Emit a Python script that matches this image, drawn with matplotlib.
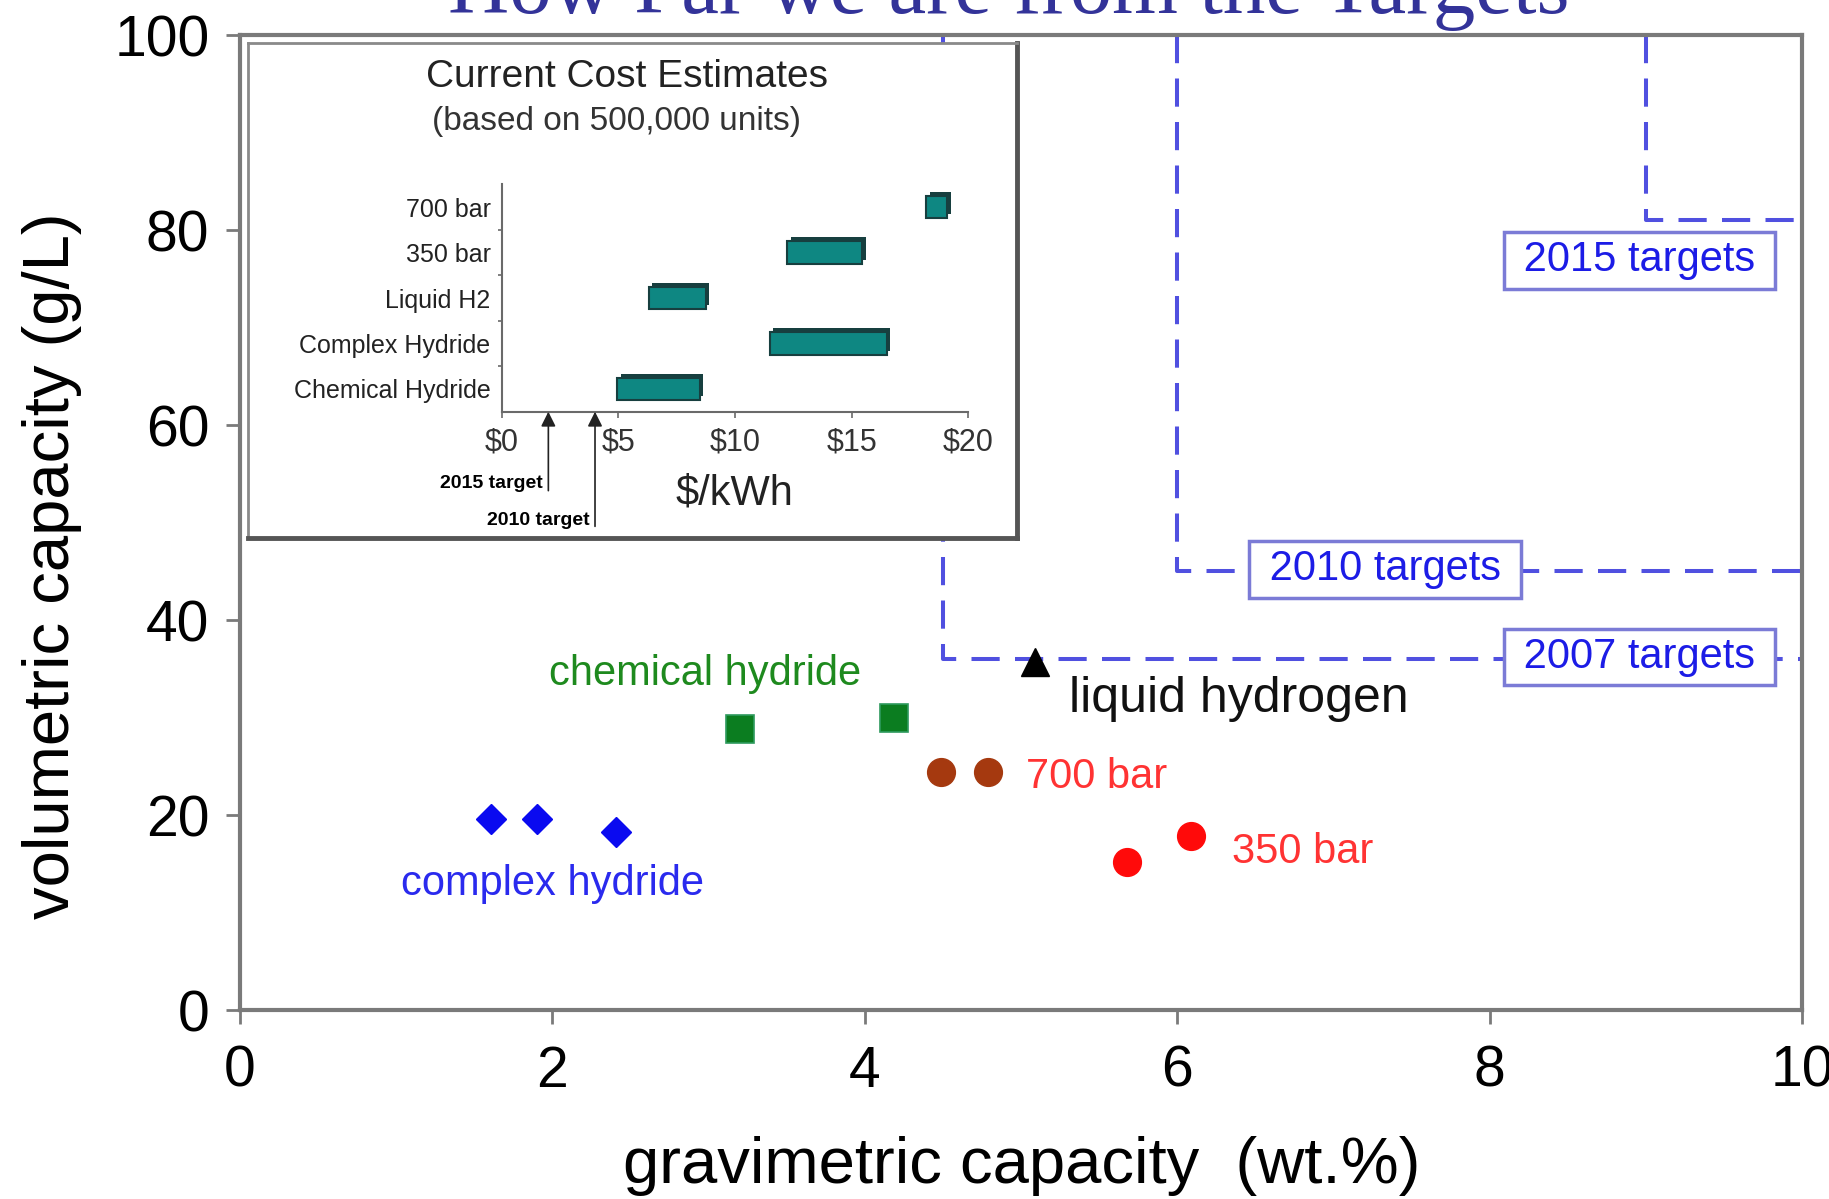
import matplotlib.pyplot as plt

plt.rcParams['font.family'] = ['Liberation Sans', 'DejaVu Sans']

# main chart: storage systems (wt.% , g/L)
complex_x = [1.61, 1.90, 2.41]
complex_y = [19.6, 19.6, 18.3]
chem_x = [3.20, 4.19]
chem_y = [28.8, 30.0]
bar700_x = [4.49, 4.79]
bar700_y = [24.4, 24.4]
bar350_x = [5.68, 6.09]
bar350_y = [15.2, 17.8]
lh2_x = [5.09]
lh2_y = [35.7]

# DOE targets
target_names = ['2007 targets', '2010 targets', '2015 targets']
target_grav = [4.5, 6.0, 9.0]
target_vol = [36, 45, 81]

# inset: cost estimates ($/kWh)
cost_categories = ['Chemical Hydride', 'Complex Hydride', 'Liquid H2', '350 bar', '700 bar']
cost_low = [4.95, 11.5, 6.3, 12.25, 18.2]
cost_high = [8.5, 16.5, 8.75, 15.45, 19.1]
cost_targets = [2, 4]
cost_target_names = ['2015 target', '2010 target']

fig = plt.figure(figsize=(18.29, 11.99), dpi=100)
ax = fig.add_axes([0.1312, 0.1576, 0.854, 0.8132])

# target lines
for g, v in zip(target_grav, target_vol):
    ax.plot([g, g, 10], [100, v, v], color='#5050e0', lw=2.9,
            dashes=(7, 3.8), zorder=2, clip_on=False)
label_pos = [(8.96, 36.2), (7.33, 45.2), (8.96, 76.9)]
for name, (lx, ly) in zip(target_names, label_pos):
    ax.text(lx, ly, ' ' + name + ' ', ha='center', va='center', fontsize=30,
            color='#1c1ce6', zorder=5,
            bbox=dict(boxstyle='square,pad=0.2', fc='white', ec='#7b7bd6', lw=2.5))

ax.plot(complex_x, complex_y, 'D', color='#0a0af0', ms=15, zorder=3)
ax.plot(chem_x, chem_y, 's', color='#0b7d20', mec='#2e9a5e', mew=1.2, ms=20, zorder=3)
ax.plot(bar700_x, bar700_y, 'o', color='#a5390f', ms=20, zorder=3)
ax.plot(bar350_x, bar350_y, 'o', color='#ff0a0a', ms=20, zorder=3)
ax.plot(lh2_x, lh2_y, '^', color='black', ms=20, zorder=3)

ax.text(2.98, 33.3, 'chemical hydride', ha='center', va='baseline', fontsize=30, color='#1e8a1e')
ax.text(2.0, 11.8, 'complex hydride', ha='center', va='baseline', fontsize=30, color='#2a2aee')
ax.text(5.03, 22.8, '700 bar', ha='left', va='baseline', fontsize=30, color='#ff3333')
ax.text(6.35, 15.1, '350 bar', ha='left', va='baseline', fontsize=30, color='#ff3333')
ax.text(5.31, 30.6, 'liquid hydrogen', ha='left', va='baseline', fontsize=36, color='#111111')

ax.set_xlim(0, 10)
ax.set_ylim(0, 100)
ax.set_xticks([0, 2, 4, 6, 8, 10])
ax.set_yticks([0, 20, 40, 60, 80, 100])
for s in ax.spines.values():
    s.set_color('#7a7a7a')
    s.set_linewidth(3)
ax.tick_params(direction='out', length=10, width=2, color='#7a7a7a', labelsize=41)
ax.tick_params(axis='x', pad=15)
ax.tick_params(axis='y', pad=12)

fig.text(0.5587, 0.0275, 'gravimetric capacity  (wt.%)', ha='center', va='center', fontsize=47)
fig.text(0.0287, 0.528, 'volumetric capacity (g/L)', ha='center', va='center',
         rotation=90, fontsize=47)

fig.text(0.5517, 0.9892, 'How Far we are from the Targets', ha='center', va='baseline',
         fontsize=61, color='#333399', family=['Liberation Serif', 'DejaVu Serif'])

# inset frame
frame = fig.add_axes([0.1356, 0.5513, 0.4204, 0.4128], zorder=3)
frame.set_xticks([])
frame.set_yticks([])
for side, s in frame.spines.items():
    s.set_color('#555555' if side in ('bottom', 'right') else '#8a8a8a')
    s.set_linewidth(3.5 if side in ('bottom', 'right') else 2)

ins = fig.add_axes([0.2743, 0.6566, 0.2551, 0.1897], zorder=4)
ins.patch.set_alpha(0)
ypos = list(range(len(cost_categories)))
widths = [h - l for l, h in zip(cost_low, cost_high)]
ins.barh([y + 0.09 for y in ypos], widths, left=[l + 0.15 for l in cost_low], height=0.5,
         color='#173f3f', zorder=2)
ins.barh(ypos, widths, left=cost_low, height=0.5, color='#0e8782',
         edgecolor='#173f3f', lw=1.5, zorder=3)
ins.set_xlim(0, 20)
ins.set_ylim(-0.5, 4.5)
ins.set_xticks([0, 5, 10, 15, 20])
ins.set_xticklabels(['$0', '$5', '$10', '$15', '$20'])
ins.set_yticks(ypos)
ins.set_yticklabels(cost_categories)
ins.set_yticks([0.5, 1.5, 2.5, 3.5], minor=True)
ins.spines['top'].set_visible(False)
ins.spines['right'].set_visible(False)
for side in ('left', 'bottom'):
    ins.spines[side].set_color('#6a6a6a')
    ins.spines[side].set_linewidth(1.5)
ins.tick_params(axis='x', length=4, width=1.2, color='#6a6a6a', labelsize=22,
                labelcolor='#333333', pad=7)
ins.tick_params(axis='y', which='major', length=0, labelsize=18, labelcolor='#222222', pad=8)
ins.tick_params(axis='y', which='minor', length=3, width=1.2, color='#6a6a6a')

tgt_label_y = [-0.316, -0.478]
tgt_tail_y = [-0.347, -0.504]
for xv, name, ly, ty in zip(cost_targets, cost_target_names, tgt_label_y, tgt_tail_y):
    ins.annotate('', xy=(xv, 0), xycoords=('data', 'axes fraction'),
                 xytext=(xv, ty), textcoords=('data', 'axes fraction'),
                 arrowprops=dict(arrowstyle='-|>', color='#222222', lw=1.2,
                                 mutation_scale=22, shrinkA=0, shrinkB=0),
                 annotation_clip=False)
    ins.text(xv - 0.25, ly, name, transform=ins.get_xaxis_transform(), ha='right',
             va='center', fontsize=14, fontweight='bold', color='black')

ins.text(10, -0.36, '$/kWh', transform=ins.get_xaxis_transform(), ha='center',
         va='center', fontsize=30, color='#222222')

fig.text(0.343, 0.9358, 'Current Cost Estimates', ha='center', va='center', fontsize=28,
         color='#222222', zorder=10)
fig.text(0.337, 0.8983, '(based on 500,000 units)', ha='center', va='center', fontsize=24,
         color='#333333', zorder=10)

fig.savefig('out.png', dpi=100)
